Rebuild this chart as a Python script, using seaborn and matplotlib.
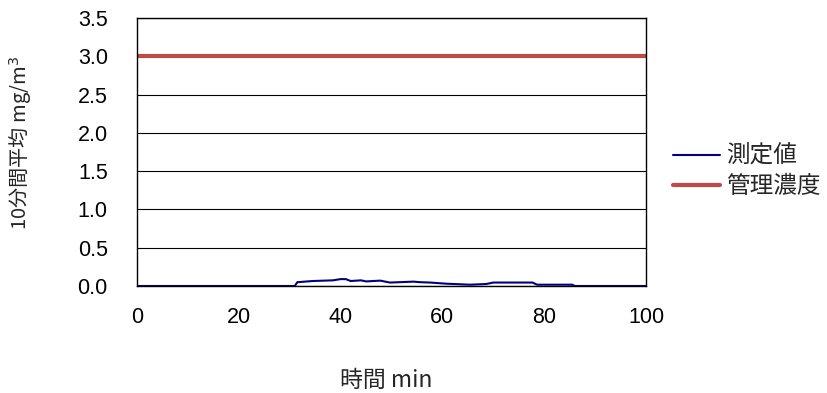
import matplotlib
matplotlib.use("Agg")
import matplotlib.pyplot as plt
import seaborn as sns
import pandas as pd

sns.set_theme(style="white")
plt.rcParams['font.family'] = ['Liberation Sans', 'Noto Sans CJK JP', 'DejaVu Sans']

# measured 10-minute average (mg/m3) at time points (min)
times = [0, 31, 31.5, 32, 34.5, 38.5, 40, 41, 42, 44, 45, 47.8, 49.7, 51.7, 54.3, 55.6,
         57.6, 60.8, 65.4, 68.6, 70, 77.7, 78.6, 85.5, 86, 100]
values = [0, 0, 0.05, 0.052, 0.065, 0.074, 0.09, 0.09, 0.065, 0.074, 0.06, 0.07, 0.045, 0.05,
          0.057, 0.05, 0.045, 0.03, 0.017, 0.026, 0.045, 0.045, 0.017, 0.017, 0, 0]
control_times = [0, 100]
control_values = [3.0, 3.0]
series_names = ["測定値", "管理濃度"]

df_meas = pd.DataFrame({"t": times, "v": values})
df_ctrl = pd.DataFrame({"t": control_times, "v": control_values})

cjk = ['Noto Sans CJK JP', 'DejaVu Sans']

fig = plt.figure(figsize=(8.28, 3.93), dpi=100)
ax = fig.add_axes([137/828, 1 - 286/393, (646-137)/828, (286-18)/393])

sns.lineplot(data=df_meas, x="t", y="v", ax=ax, color="#000080", linewidth=1.5,
             label=series_names[0])
sns.lineplot(data=df_ctrl, x="t", y="v", ax=ax, color="#be4b48", linewidth=3,
             label=series_names[1])

ax.set_xlim(0, 100)
ax.set_ylim(0, 3.5)
ax.set_xticks(range(0, 101, 20))
ax.set_yticks([i * 0.5 for i in range(8)])
ax.set_yticklabels([f"{i*0.5:.1f}" for i in range(8)])
ax.yaxis.grid(True, color="black", linewidth=0.8)
ax.set_axisbelow(True)
for s in ax.spines.values():
    s.set_color("black")
    s.set_linewidth(1)
ax.tick_params(axis="both", labelsize=15.5, colors="black", length=0)
ax.tick_params(axis="x", pad=15)
ax.tick_params(axis="y", pad=21)

ax.set_xlabel("時間 min", fontsize=16.5, family=cjk, va="center")
ax.xaxis.set_label_coords(0.489, -0.351)
ax.set_ylabel("10分間平均 mg/m$^3$", fontsize=14.5, family=cjk, va="center")
ax.yaxis.set_label_coords(-0.228, 0.532)

leg = ax.legend(loc="upper left", bbox_to_anchor=(673/828, 1 - 145/393),
                bbox_transform=fig.transFigure, frameon=False,
                borderaxespad=0, borderpad=0,
                prop={"family": cjk, "size": 17},
                handlelength=2.0, handletextpad=0.25, labelspacing=0.3)

fig.savefig("out.png", dpi=100, facecolor="white")
